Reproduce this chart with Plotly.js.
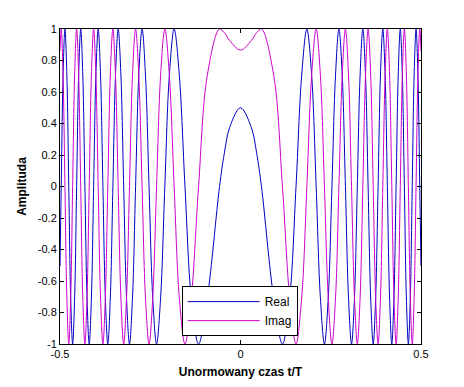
<!DOCTYPE html>
<html>
<head>
<meta charset="utf-8">
<script src="https://cdn.plot.ly/plotly-3.0.1.min.js"></script>
<style>
html,body{margin:0;padding:0;background:#fff;}
#chart{width:464px;height:387px;}
</style>
</head>
<body>
<div id="chart"></div>
<script>
// Normalised time t/T (points read at phase steps of the chirp: extrema, zero crossings, mid-points)
const t = [-0.5, -0.4966, -0.4915, -0.4863, -0.4810, -0.4757, -0.4704, -0.4650, -0.4595, -0.4539,
  -0.4483, -0.4426, -0.4369, -0.4310, -0.4251, -0.4191, -0.4130, -0.4068, -0.4006, -0.3942,
  -0.3877, -0.3811, -0.3744, -0.3676, -0.3606, -0.3535, -0.3463, -0.3389, -0.3313, -0.3236,
  -0.3157, -0.3075, -0.2992, -0.2906, -0.2818, -0.2726, -0.2632, -0.2533, -0.2431, -0.2325,
  -0.2213, -0.2096, -0.1971, -0.1838, -0.1695, -0.1538, -0.1363, -0.1162, -0.0919, -0.0581,
  -0.045, -0.030, 0, 0.030, 0.045,
  0.0581, 0.0919, 0.1162, 0.1363, 0.1538, 0.1695, 0.1838, 0.1971, 0.2096, 0.2213,
  0.2325, 0.2431, 0.2533, 0.2632, 0.2726, 0.2818, 0.2906, 0.2992, 0.3075, 0.3157,
  0.3236, 0.3313, 0.3389, 0.3463, 0.3535, 0.3606, 0.3676, 0.3744, 0.3811, 0.3877,
  0.3942, 0.4006, 0.4068, 0.4130, 0.4191, 0.4251, 0.4310, 0.4369, 0.4426, 0.4483,
  0.4539, 0.4595, 0.4650, 0.4704, 0.4757, 0.4810, 0.4863, 0.4915, 0.4966, 0.5];

const realPart = [-0.505, 0, 0.707, 1, 0.707, 0, -0.707, -1, -0.707, 0,
  0.707, 1, 0.707, 0, -0.707, -1, -0.707, 0, 0.707, 1,
  0.707, 0, -0.707, -1, -0.707, 0, 0.707, 1, 0.707, 0,
  -0.707, -1, -0.707, 0, 0.707, 1, 0.707, 0, -0.707, -1,
  -0.707, 0, 0.707, 1, 0.707, 0, -0.707, -1, -0.707, 0,
  0.208, 0.375, 0.5, 0.375, 0.208,
  0, -0.707, -1, -0.707, 0, 0.707, 1, 0.707, 0, -0.707,
  -1, -0.707, 0, 0.707, 1, 0.707, 0, -0.707, -1, -0.707,
  0, 0.707, 1, 0.707, 0, -0.707, -1, -0.707, 0, 0.707,
  1, 0.707, 0, -0.707, -1, -0.707, 0, 0.707, 1, 0.707,
  0, -0.707, -1, -0.707, 0, 0.707, 1, 0.707, 0, -0.505];

const imagPart = [0.863, 1, 0.707, 0, -0.707, -1, -0.707, 0, 0.707, 1,
  0.707, 0, -0.707, -1, -0.707, 0, 0.707, 1, 0.707, 0,
  -0.707, -1, -0.707, 0, 0.707, 1, 0.707, 0, -0.707, -1,
  -0.707, 0, 0.707, 1, 0.707, 0, -0.707, -1, -0.707, 0,
  0.707, 1, 0.707, 0, -0.707, -1, -0.707, 0, 0.707, 1,
  0.978, 0.927, 0.866, 0.927, 0.978,
  1, 0.707, 0, -0.707, -1, -0.707, 0, 0.707, 1, 0.707,
  0, -0.707, -1, -0.707, 0, 0.707, 1, 0.707, 0, -0.707,
  -1, -0.707, 0, 0.707, 1, 0.707, 0, -0.707, -1, -0.707,
  0, 0.707, 1, 0.707, 0, -0.707, -1, -0.707, 0, 0.707,
  1, 0.707, 0, -0.707, -1, -0.707, 0, 0.707, 1, 0.863];

const seriesNames = ["Real", "Imag"];
const xTickVals = [-0.5, 0, 0.5];
const xTickText = ["-0.5", "0", "0.5"];
const yTickVals = [-1, -0.8, -0.6, -0.4, -0.2, 0, 0.2, 0.4, 0.6, 0.8, 1];
const yTickText = ["-1", "-0.8", "-0.6", "-0.4", "-0.2", "0", "0.2", "0.4", "0.6", "0.8", "1"];

const traces = [
  {x: t, y: realPart, name: seriesNames[0], type: "scatter", mode: "lines",
   line: {color: "#0000c0", width: 1, shape: "spline", smoothing: 1}},
  {x: t, y: imagPart, name: seriesNames[1], type: "scatter", mode: "lines",
   line: {color: "#cc00cc", width: 1, shape: "spline", smoothing: 1}}
];

const axisCommon = {
  showline: true, linecolor: "#000", linewidth: 1, mirror: "ticks",
  ticks: "inside", ticklen: 4, tickcolor: "#000", tickwidth: 1,
  showgrid: false, zeroline: false,
  tickfont: {family: "Liberation Sans, Arial, sans-serif", size: 11, color: "#000"}
};

const layout = {
  width: 464, height: 387,
  paper_bgcolor: "#fff", plot_bgcolor: "#fff",
  margin: {l: 60, r: 43, t: 29, b: 43},
  showlegend: true,
  legend: {x: 0.337, y: 0.025, xanchor: "left", yanchor: "bottom",
    bordercolor: "#000", borderwidth: 1, bgcolor: "#fff",
    font: {family: "Liberation Sans, Arial, sans-serif", size: 12, color: "#000"},
    itemwidth: 72, tracegroupgap: 0},
  xaxis: Object.assign({}, axisCommon, {
    range: [-0.5, 0.5], tickvals: xTickVals, ticktext: xTickText,
    title: {text: "<b>Unormowany czas t/T</b>", standoff: 8,
      font: {family: "Liberation Sans, Arial, sans-serif", size: 12, color: "#000"}}
  }),
  yaxis: Object.assign({}, axisCommon, {
    range: [-1, 1], tickvals: yTickVals, ticktext: yTickText,
    title: {text: "<b>Amplituda</b>", standoff: 8,
      font: {family: "Liberation Sans, Arial, sans-serif", size: 12, color: "#000"}}
  })
};

Plotly.newPlot("chart", traces, layout, {displayModeBar: false, staticPlot: true});
</script>
</body>
</html>
